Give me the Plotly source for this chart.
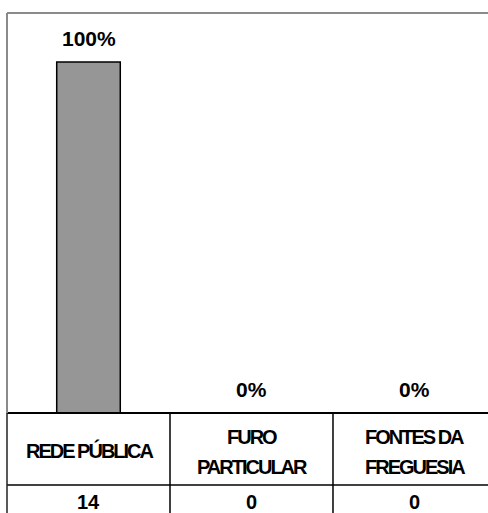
import plotly.graph_objects as go

categories = ["REDE PÚBLICA", "FURO<br>PARTICULAR", "FONTES DA<br>FREGUESIA"]
counts = [14, 0, 0]
total = sum(counts)
shares = [c / total for c in counts]
share_labels = [f"{round(s * 100)}%" for s in shares]
x_pos = list(range(len(categories)))

NUM_FONT = "Liberation Sans, Arial, sans-serif"

fig = go.Figure()
fig.add_trace(go.Bar(
    x=x_pos, y=shares, width=0.39,
    marker=dict(color="#969696", line=dict(color="#000000", width=1.5)),
    hoverinfo="skip",
))

# percentage labels above bars
for xi, s, lab in zip(x_pos, shares, share_labels):
    fig.add_annotation(x=xi, y=s, xref="x", yref="y", text=f"<b>{lab}</b>",
                       showarrow=False, yanchor="bottom", yshift=10,
                       font=dict(family=NUM_FONT, size=21, color="#000"))

# data table: category names (one annotation per line) and counts
cat_idx = []
for xi, cat, c in zip(x_pos, categories, counts):
    lines = cat.split("<br>")
    n = len(lines)
    for j, line in enumerate(lines):
        cat_idx.append(str(len(fig.layout.annotations)))
        fig.add_annotation(x=xi, y=-0.0925 - 0.005 * (n - 1), xref="x", yref="paper",
                           text=f"<b>{line}</b>", showarrow=False, yanchor="middle",
                           yshift=(n - 1) * 15 - j * 30,
                           font=dict(family=NUM_FONT, size=20, color="#000"))
    fig.add_annotation(x=xi, y=-0.222, xref="x", yref="paper", text=f"<b>{c}</b>",
                       showarrow=False, yanchor="middle",
                       font=dict(family=NUM_FONT, size=20, color="#000"))

# table grid lines
shapes = []
shapes.append(dict(type="line", xref="paper", yref="paper", x0=0, x1=1.05, y0=0, y1=0,
                   line=dict(color="#000", width=2)))
shapes.append(dict(type="line", xref="paper", yref="paper", x0=0, x1=1.05, y0=-0.18, y1=-0.18,
                   line=dict(color="#000", width=1.5)))
for b in [0.5, 1.5]:
    shapes.append(dict(type="line", xref="x", yref="paper", x0=b, x1=b, y0=-0.4, y1=0,
                       line=dict(color="#000", width=1.5)))
shapes.append(dict(type="line", xref="paper", yref="paper", x0=0, x1=0, y0=-0.4, y1=0,
                   line=dict(color="#222", width=1.5)))
# outer chart border
shapes.append(dict(type="line", xref="paper", yref="paper", x0=0, x1=0, y0=0, y1=1,
                   line=dict(color="#8a8a8a", width=2)))
shapes.append(dict(type="line", xref="paper", yref="paper", x0=0, x1=1.05, y0=1, y1=1,
                   line=dict(color="#8a8a8a", width=2)))
fig.update_layout(shapes=shapes)

fig.update_layout(
    width=488, height=513,
    margin=dict(l=7, r=0, t=13, b=100, pad=0),
    paper_bgcolor="white", plot_bgcolor="white",
    showlegend=False, hovermode=False,
    xaxis=dict(range=[-0.5, 2.451], showticklabels=False, showgrid=False,
               zeroline=False, showline=False, ticks=""),
    yaxis=dict(range=[0, 1.14], showticklabels=False, showgrid=False,
               zeroline=False, showline=False, ticks=""),
)

post_js = """
document.body.style.margin = '0';
var catIdx = %s;
document.querySelectorAll('.js-plotly-plot g.annotation').forEach(function(g) {
  if (catIdx.indexOf(g.getAttribute('data-index')) >= 0) {
    g.querySelectorAll('text').forEach(function(t) { t.style.letterSpacing = '-2px'; });
  }
});
""" % str(cat_idx).replace("'", '"')

fig.write_html("out.html", post_script=post_js,
               config={"displayModeBar": False, "staticPlot": True})
